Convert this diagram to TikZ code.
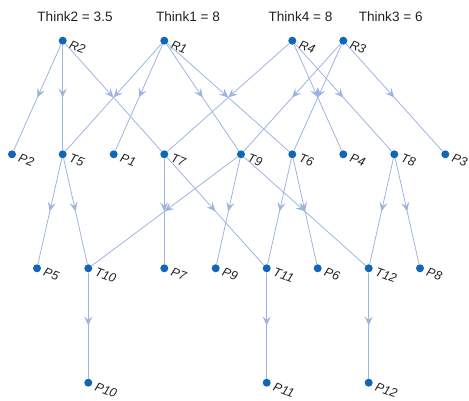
\documentclass[tikz,border=0pt]{standalone}
\usepackage{fontspec}
\setmainfont{Liberation Sans}
\usetikzlibrary{arrows.meta,decorations.markings}
\definecolor{vtx}{RGB}{18,102,184}
\definecolor{edg}{RGB}{158,180,224}
\definecolor{txt}{RGB}{34,34,34}
\tikzset{
 vert/.style={circle,fill=vtx,inner sep=0pt,minimum size=8pt},
 lab/.style={font=\itshape\fontsize{12.5}{12.5}\selectfont, text=txt, inner sep=0pt, anchor=west, rotate=-20},
 ttl/.style={font=\fontsize{13.6}{13.6}\selectfont, text=txt, anchor=base, inner sep=0pt},
 edge/.style={draw=edg, line width=0.8pt, postaction={decorate},
   decoration={markings, mark=at position 0.5 with {\arrow[edg]{Stealth[length=9pt,width=8pt,inset=3.5pt]}}}},
}
\newcommand\V[4]{\node[vert] (#1) at (#2,#3) {}; \node[lab] (#1l) at ([shift={(7,3.5)}]#1.center) {#4};}
\begin{document}
\begin{tikzpicture}[x=1pt,y=-1pt]
\useasboundingbox (0,0) rectangle (469,400);
\node[ttl] (t2) at (75,21) {Think2 = 3.5};
\node[ttl] (t1) at (188,21) {Think1 = 8};
\node[ttl] (t4) at (300.5,21) {Think4 = 8};
\node[ttl] (t3) at (390.7,21) {Think3 = 6};
\V{R2}{62.7}{40.7}{R2}
\V{R1}{164.3}{40.7}{R1}
\V{R4}{292.3}{40.7}{R4}
\V{R3}{343.3}{40.7}{R3}
\V{P2}{12}{154.3}{P2}
\V{T5}{62.7}{154.3}{T5}
\V{P1}{113.7}{154.3}{P1}
\V{T7}{164.3}{154.3}{T7}
\V{T9}{241}{154.3}{T9}
\V{T6}{292.3}{154.3}{T6}
\V{P4}{343.3}{154.3}{P4}
\V{T8}{394.3}{154.3}{T8}
\V{P3}{445.3}{154.3}{P3}
\V{P5}{37}{268.3}{P5}
\V{T10}{88.3}{268.3}{T10}
\V{P7}{164.3}{268.3}{P7}
\V{P9}{215.7}{268.3}{P9}
\V{T11}{266.7}{268.3}{T11}
\V{P6}{317.7}{268.3}{P6}
\V{T12}{368.7}{268.3}{T12}
\V{P8}{420}{268.3}{P8}
\V{P10}{88.3}{382.7}{P10}
\V{P11}{266.7}{382.7}{P11}
\V{P12}{368.7}{382.7}{P12}
\foreach \a/\b in {R2/P2,R2/T5,R2/T7,R1/T5,R1/P1,R1/T9,R1/T6,R4/T7,R4/P4,R4/T8,R3/T9,R3/T6,R3/P3,
  T5/P5,T5/T10,T7/P7,T7/T11,T9/T10,T9/P9,T9/T12,T6/T11,T6/P6,T8/T12,T8/P8,
  T10/P10,T11/P11,T12/P12}
  \draw[edge] (\a) -- (\b);
\end{tikzpicture}
\end{document}
